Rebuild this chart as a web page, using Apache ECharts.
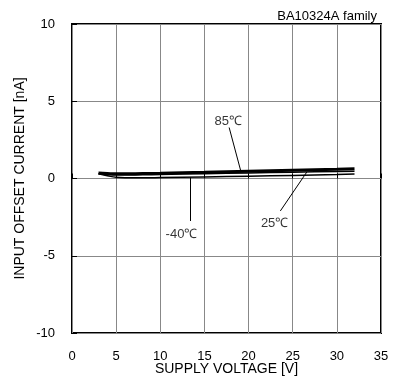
<!DOCTYPE html>
<html><head><meta charset="utf-8">
<script src="https://cdn.jsdelivr.net/npm/echarts@6/dist/echarts.min.js"></script>
<style>html,body{margin:0;padding:0;background:#fff}#c{width:403px;height:383px}</style>
</head><body><div id="c"></div>
<script>
const voltage = [3, 4, 5, 6, 8, 10, 15, 20, 25, 30, 32];
const t85 = [0.35, 0.32, 0.3, 0.3, 0.32, 0.34, 0.4, 0.47, 0.54, 0.6, 0.63];
const t25 = [0.3, 0.25, 0.22, 0.22, 0.24, 0.26, 0.31, 0.36, 0.41, 0.45, 0.47];
const tm40 = [0.3, 0.18, 0.08, 0.05, 0.05, 0.06, 0.1, 0.15, 0.2, 0.26, 0.29];
const xTicks = [0, 5, 10, 15, 20, 25, 30, 35];
const yTicks = [-10, -5, 0, 5, 10];
// annotations: label position, leader start, leader end, text
const noteText = ['85℃', '-40℃', '25℃'];
const noteLabel = [[17.7, 3.7], [12.4, -3.6], [22.95, -2.9]];
const noteFrom = [[17.8, 3.3], [13.4, -2.75], [23.6, -2.1]];
const noteTo = [[19.1, 0.52], [13.4, 0.08], [26.6, 0.42]];
const chart = echarts.init(document.getElementById('c'));
const font = 'Liberation Sans, Arial, sans-serif';
const mk = (name, data, w) => ({
  name, type: 'line', data: voltage.map((v, i) => [v, data[i]]),
  showSymbol: false, smooth: true, lineStyle: {color: '#000', width: w}, z: 3
});
const lead = {
  type: 'line', data: [], silent: true,
  markLine: {
    symbol: 'none', silent: true, animation: false,
    lineStyle: {color: '#000', width: 1, type: 'solid'},
    label: {show: false},
    data: noteFrom.map((f, i) => [{coord: f}, {coord: noteTo[i]}])
  }
};
const labels = {
  type: 'scatter', symbolSize: 0, silent: true,
  data: noteLabel.map((p, i) => ({value: p, name: noteText[i]})),
  label: {show: true, position: 'inside', formatter: p => p.name, color: '#000', fontSize: 13, fontFamily: font}
};
chart.setOption({
  animation: false,
  title: {text: 'BA10324A family', right: 21, top: 5, textStyle: {fontSize: 13, fontWeight: 'normal', color: '#000', fontFamily: font}},
  grid: {left: 72, right: 22, top: 24, bottom: 50, show: true, borderColor: '#000', borderWidth: 2, containLabel: false, outerBoundsMode: 'none'},
  xAxis: {
    type: 'value', min: 0, max: 35, interval: 5,
    name: 'SUPPLY VOLTAGE [V]', nameLocation: 'middle', nameGap: 29, nameMoveOverlap: false,
    nameTextStyle: {fontSize: 14, color: '#000', fontFamily: font},
    axisLine: {show: false},
    axisTick: {show: true, inside: true, length: 5, lineStyle: {color: '#000'}},
    axisLabel: {fontSize: 13, color: '#000', margin: 17, fontFamily: font, formatter: v => xTicks.includes(v) ? String(v) : ''},
    splitLine: {show: true, lineStyle: {color: '#888', width: 1}}
  },
  yAxis: {
    type: 'value', min: -10, max: 10, interval: 5,
    name: 'INPUT OFFSET CURRENT [nA]', nameLocation: 'middle', nameGap: 45, nameMoveOverlap: false,
    nameTextStyle: {fontSize: 14, color: '#000', fontFamily: font},
    axisLine: {show: false},
    axisTick: {show: true, inside: true, length: 5, lineStyle: {color: '#000'}},
    axisLabel: {fontSize: 13, color: '#000', margin: 17, fontFamily: font, formatter: v => yTicks.includes(v) ? String(v) : ''},
    splitLine: {show: true, lineStyle: {color: '#888', width: 1}}
  },
  series: [mk('-40℃', tm40, 1.5), mk('25℃', t25, 1.5), mk('85℃', t85, 3), lead, labels]
});
</script></body></html>
